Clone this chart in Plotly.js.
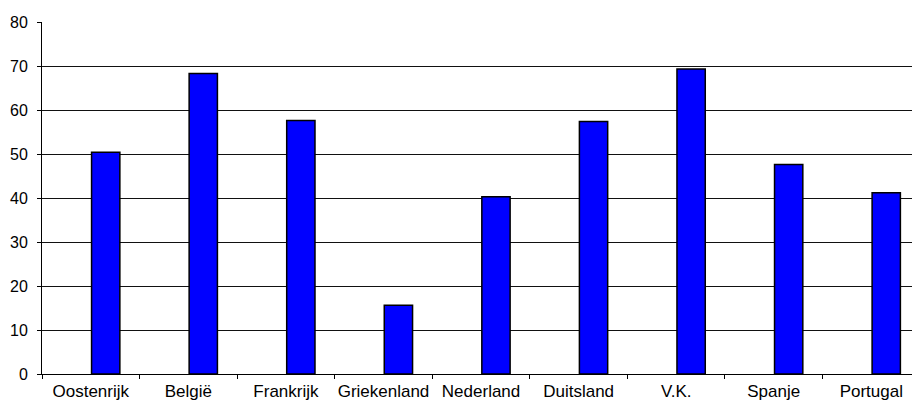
<!DOCTYPE html>
<html>
<head>
<meta charset="utf-8">
<script src="https://cdn.plot.ly/plotly-3.0.1.min.js"></script>
<style>html,body{margin:0;padding:0;background:#fff;}#chart{width:912px;height:405px;}</style>
</head>
<body>
<div id="chart"></div>
<script>
const categories = ["Oostenrijk", "België", "Frankrijk", "Griekenland", "Nederland", "Duitsland", "V.K.", "Spanje", "Portugal"];
const values = [50.4, 68.3, 57.6, 15.6, 40.3, 57.4, 69.3, 47.6, 41.2];
const yTicks = [0, 10, 20, 30, 40, 50, 60, 70, 80];

const trace = {
  type: "bar",
  x: categories,
  y: values,
  width: 0.29,
  offset: 0.008,
  marker: {color: "#0000FF", line: {color: "#000000", width: 1.5}},
  hoverinfo: "x+y"
};

const layout = {
  width: 912,
  height: 405,
  margin: {l: 42, r: 0, t: 22, b: 31, pad: 0},
  paper_bgcolor: "#ffffff",
  plot_bgcolor: "#ffffff",
  showlegend: false,
  font: {family: "Liberation Sans, Arial, sans-serif", color: "#000000", size: 16},
  xaxis: {
    type: "category",
    range: [-0.5, 8.417],
    showgrid: false,
    showline: true,
    linecolor: "#000000",
    linewidth: 1,
    ticks: "outside",
    tickson: "boundaries",
    ticklen: 4,
    tickcolor: "#000000",
    tickangle: 0,
    ticklabelstandoff: 2,
    tickfont: {size: 17, family: "Liberation Sans, Arial, sans-serif"},
    fixedrange: true
  },
  yaxis: {
    range: [0, 80],
    tickvals: yTicks,
    ticktext: yTicks.map(String),
    showgrid: true,
    gridcolor: "#111111",
    gridwidth: 1,
    zeroline: false,
    showline: true,
    linecolor: "#000000",
    linewidth: 1,
    ticks: "outside",
    ticklen: 4,
    tickcolor: "#000000",
    ticklabelstandoff: 6,
    tickfont: {size: 16, family: "Liberation Sans, Arial, sans-serif"},
    fixedrange: true
  }
};

Plotly.newPlot("chart", [trace], layout, {displayModeBar: false, staticPlot: true});
</script>
</body>
</html>
